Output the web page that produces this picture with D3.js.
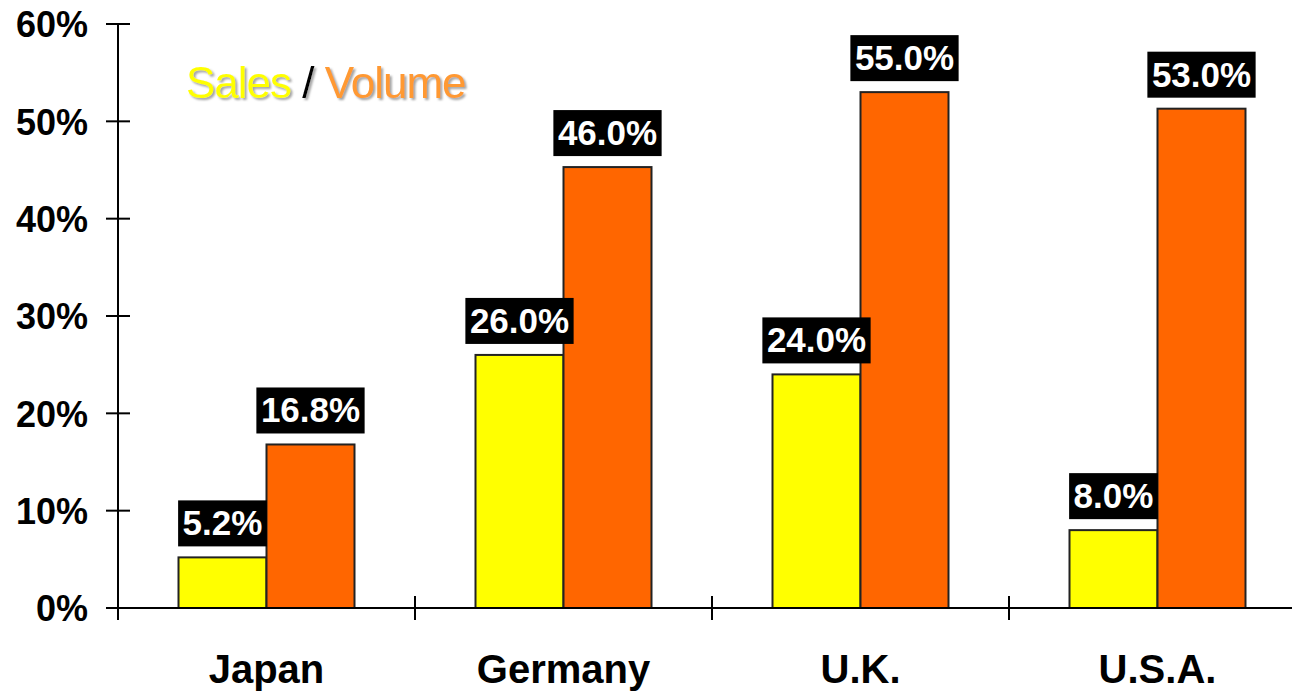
<!DOCTYPE html>
<html>
<head>
<meta charset="utf-8">
<script src="https://cdn.jsdelivr.net/npm/d3@7"></script>
<style>
  html, body { margin: 0; padding: 0; background: #fff; }
  svg { display: block; font-family: "Liberation Sans", Arial, sans-serif; }
</style>
</head>
<body>
<svg id="chart" width="1292" height="694"></svg>
<script>
// ---- data ----
const categories = ["Japan", "Germany", "U.K.", "U.S.A."];
const series = ["Sales", "Volume"];
const salesValues = [5.2, 26.0, 24.0, 8.0];
const volumeValues = [16.8, 45.3, 53.0, 51.3];
const salesLabels = ["5.2%", "26.0%", "24.0%", "8.0%"];
const volumeLabels = ["16.8%", "46.0%", "55.0%", "53.0%"];
const yTicks = [0, 10, 20, 30, 40, 50, 60];
const seriesColors = ["#ffff00", "#ff6600"];

// ---- layout ----
const svg = d3.select("#chart");
const x0 = d3.scaleBand().domain(categories).range([118, 1306]).paddingInner(0).paddingOuter(0);
const x1 = d3.scaleBand().domain(series).range([0, x0.bandwidth()]).paddingInner(0).paddingOuter(0.6875);
const y = d3.scaleLinear().domain([0, 60]).range([608, 24]);

const rows = categories.map((c, i) => ({
  cat: c,
  vals: [
    { s: "Sales", v: salesValues[i], label: salesLabels[i], color: seriesColors[0] },
    { s: "Volume", v: volumeValues[i], label: volumeLabels[i], color: seriesColors[1] }
  ]
}));

// ---- legend ----
const shadowF = svg.append("defs").append("filter").attr("id", "sh")
  .attr("x", "-10%").attr("y", "-10%").attr("width", "130%").attr("height", "140%");
shadowF.append("feDropShadow").attr("dx", 2).attr("dy", 2).attr("stdDeviation", 0.8)
  .attr("flood-color", "#999").attr("flood-opacity", 0.9);
const legend = svg.append("text").attr("x", 186).attr("y", 98)
  .attr("font-size", 44)
  .style("letter-spacing", "-1px")
  .attr("filter", "url(#sh)");
legend.append("tspan").attr("fill", "#ffff00").text("Sales");
legend.append("tspan").attr("fill", "#000").text(" / ");
legend.append("tspan").attr("fill", "#ff9933").text("Volume");

// ---- bars ----
const g = svg.append("g");
const groups = g.selectAll("g.cat").data(rows).join("g")
  .attr("transform", d => `translate(${x0(d.cat)},0)`);

groups.selectAll("rect.bar").data(d => d.vals).join("rect")
  .attr("class", "bar")
  .attr("x", d => x1(d.s))
  .attr("y", d => y(d.v))
  .attr("width", x1.bandwidth())
  .attr("height", d => y(0) - y(d.v))
  .attr("fill", d => d.color)
  .attr("stroke", "#222")
  .attr("stroke-width", 2);

// ---- axes ----
const axisG = svg.append("g").attr("stroke", "#000").attr("stroke-width", 2);
axisG.append("line").attr("x1", 118).attr("x2", 118).attr("y1", y(60)).attr("y2", 620);
axisG.append("line").attr("x1", 106).attr("x2", 1292).attr("y1", y(0)).attr("y2", y(0));
axisG.selectAll("line.yt").data(yTicks).join("line").attr("class", "yt")
  .attr("x1", 106).attr("x2", 130).attr("y1", d => y(d)).attr("y2", d => y(d));
axisG.selectAll("line.xt").data(categories).join("line").attr("class", "xt")
  .attr("x1", d => x0(d)).attr("x2", d => x0(d)).attr("y1", 596).attr("y2", 620);

svg.selectAll("text.ytl").data(yTicks).join("text").attr("class", "ytl")
  .attr("x", 88).attr("y", d => y(d)).attr("dy", "0.37em")
  .attr("text-anchor", "end").attr("font-size", 36).attr("font-weight", "bold")
  .attr("fill", "#000").text(d => d + "%");

svg.selectAll("text.xtl").data(categories).join("text").attr("class", "xtl")
  .attr("x", d => x0(d) + x0.bandwidth() / 2).attr("y", 683)
  .attr("text-anchor", "middle").attr("font-size", 40).attr("font-weight", "bold")
  .attr("fill", "#000").text(d => d);

// ---- value labels ----
const labs = groups.selectAll("g.lab").data(d => d.vals).join("g").attr("class", "lab");
labs.each(function(d) {
  const gg = d3.select(this);
  const cx = x1(d.s) + x1.bandwidth() / 2;
  const bottom = y(d.v) - 11;
  const rect = gg.append("rect").attr("fill", "#000");
  const t = gg.append("text").attr("x", cx).attr("y", bottom - 11)
    .attr("text-anchor", "middle").attr("font-size", 35).attr("font-weight", "bold")
    .attr("fill", "#fff").text(d.label);
  const w = t.node().getComputedTextLength() + 9;
  rect.attr("x", cx - w / 2).attr("y", bottom - 46).attr("width", w).attr("height", 46);
});
</script>
</body>
</html>
